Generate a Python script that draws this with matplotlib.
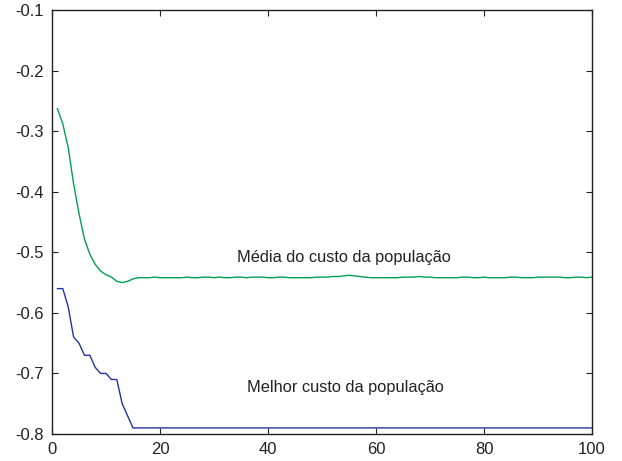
import matplotlib
matplotlib.use("Agg")
import matplotlib.pyplot as plt

plt.rcParams['font.family'] = ['Liberation Sans', 'DejaVu Sans']
plt.rcParams['axes.unicode_minus'] = False

# generations 1..100
geracao = list(range(1, 101))

# average cost of the population (green)
media_custo = [
    -0.263, -0.288, -0.327, -0.387, -0.436, -0.478, -0.503, -0.520, -0.531, -0.537,
    -0.541, -0.548, -0.550, -0.548, -0.544, -0.542, -0.542, -0.542, -0.541, -0.542,
    -0.542, -0.542, -0.542, -0.542, -0.541, -0.542, -0.542, -0.541, -0.541, -0.542,
    -0.541, -0.542, -0.542, -0.541, -0.541, -0.542, -0.541, -0.541, -0.541, -0.542,
    -0.542, -0.541, -0.541, -0.542, -0.542, -0.542, -0.542, -0.542, -0.541, -0.541,
    -0.541, -0.540, -0.540, -0.539, -0.538, -0.539, -0.540, -0.541, -0.542, -0.542,
    -0.542, -0.542, -0.542, -0.542, -0.541, -0.541, -0.541, -0.540, -0.541, -0.541,
    -0.542, -0.542, -0.542, -0.542, -0.542, -0.541, -0.541, -0.542, -0.542, -0.541,
    -0.542, -0.542, -0.542, -0.542, -0.541, -0.541, -0.542, -0.542, -0.542, -0.541,
    -0.541, -0.541, -0.541, -0.541, -0.542, -0.542, -0.541, -0.541, -0.542, -0.541,
]

# best cost of the population (blue)
melhor_custo = [
    -0.56, -0.56, -0.59, -0.64, -0.65, -0.67, -0.67, -0.69, -0.70, -0.70,
    -0.71, -0.71, -0.75, -0.77, -0.79, -0.79, -0.79, -0.79, -0.79, -0.79,
    -0.79, -0.79, -0.79, -0.79, -0.79, -0.79, -0.79, -0.79, -0.79, -0.79,
    -0.79, -0.79, -0.79, -0.79, -0.79, -0.79, -0.79, -0.79, -0.79, -0.79,
    -0.79, -0.79, -0.79, -0.79, -0.79, -0.79, -0.79, -0.79, -0.79, -0.79,
    -0.79, -0.79, -0.79, -0.79, -0.79, -0.79, -0.79, -0.79, -0.79, -0.79,
    -0.79, -0.79, -0.79, -0.79, -0.79, -0.79, -0.79, -0.79, -0.79, -0.79,
    -0.79, -0.79, -0.79, -0.79, -0.79, -0.79, -0.79, -0.79, -0.79, -0.79,
    -0.79, -0.79, -0.79, -0.79, -0.79, -0.79, -0.79, -0.79, -0.79, -0.79,
    -0.79, -0.79, -0.79, -0.79, -0.79, -0.79, -0.79, -0.79, -0.79, -0.79,
]

x_ticks = [0, 20, 40, 60, 80, 100]
y_ticks = [-0.8, -0.7, -0.6, -0.5, -0.4, -0.3, -0.2, -0.1]

fig = plt.figure(figsize=(6.22, 4.61), dpi=100)
ax = fig.add_axes([0.0836, 0.0586, 0.8682, 0.9197])

ax.plot(geracao, media_custo, color='#00a050', linewidth=1.0)
ax.plot(geracao, melhor_custo, color='#2533a0', linewidth=1.0)

ax.text(54.1, -0.508, 'Média do custo da população', ha='center', va='center',
        fontsize=11.8, color='#222222')
ax.text(54.4, -0.723, 'Melhor custo da população', ha='center', va='center',
        fontsize=11.8, color='#222222')

ax.set_xlim(0, 100)
ax.set_ylim(-0.8, -0.1)
ax.set_xticks(x_ticks)
ax.set_yticks(y_ticks)
ax.set_yticklabels([f'{v:.1f}' for v in y_ticks])
ax.tick_params(direction='in', top=True, right=True, length=4, width=0.8,
               labelsize=12, colors='#222222', pad=6)
for s in ax.spines.values():
    s.set_linewidth(1.0)
    s.set_color('#222222')

fig.savefig('out.png', dpi=100)
